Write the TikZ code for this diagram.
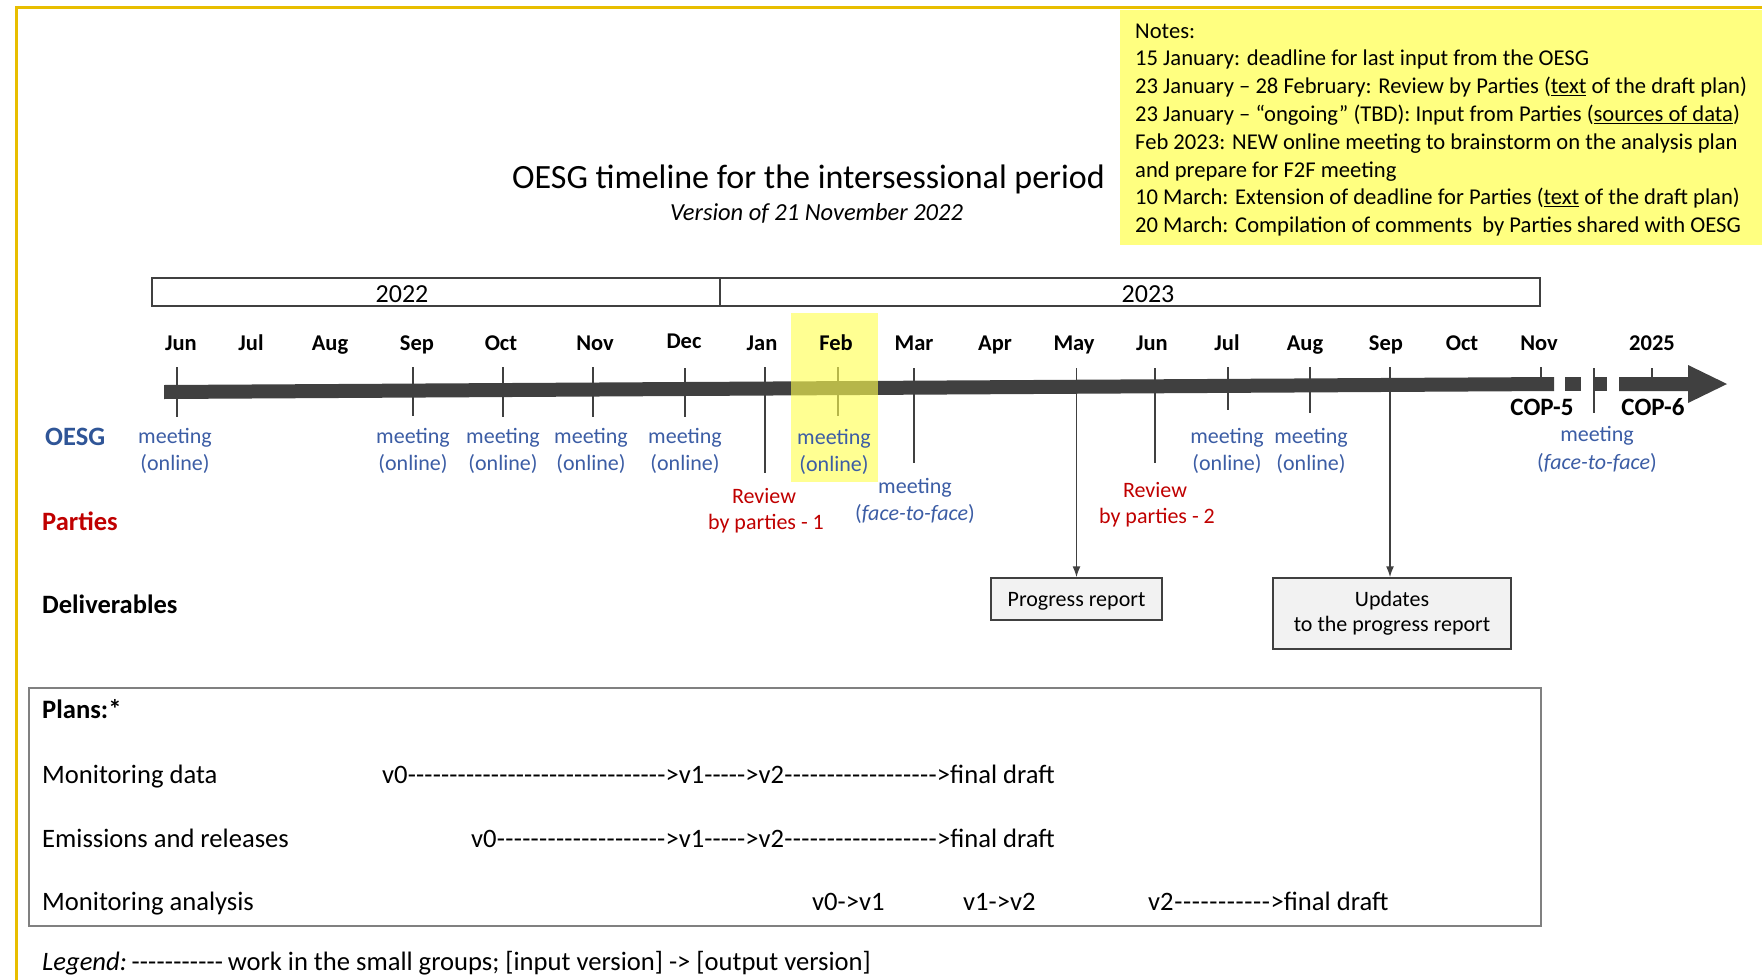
\documentclass[tikz,border=0pt]{standalone}
\usepackage{fontspec}
\setmainfont{Carlito}
\usetikzlibrary{arrows.meta}
\definecolor{gold}{RGB}{232,190,0}
\definecolor{noteyellow}{RGB}{255,255,128}
\definecolor{hiyellow}{RGB}{255,255,80}
\definecolor{shaftgray}{RGB}{64,64,64}
\definecolor{meetblue}{RGB}{60,93,165}
\definecolor{oesgblue}{RGB}{47,85,151}
\definecolor{partred}{RGB}{192,0,0}
\definecolor{boxgray}{RGB}{242,242,242}
\definecolor{framegray}{RGB}{128,128,128}
\newcommand\fsz[1]{\fontsize{#1}{#1}\selectfont}
\newcommand\dfill[1]{\hbox to #1pt{\xleaders\hbox{-}\hfill}}
\tikzset{
  lbl/.style={inner sep=0pt, anchor=base},
  lblw/.style={inner sep=0pt, anchor=base west},
  month/.style={lbl, font=\fsz{22.5}\bfseries},
  meet/.style={lbl, text=meetblue, font=\fsz{22}},
  review/.style={lbl, text=partred, font=\fsz{22}},
  rowhead/.style={lblw, font=\fsz{26.5}\bfseries},
  note/.style={lblw, font=\fsz{22.6}},
  plan/.style={lblw, font=\fsz{26.6}},
  cop/.style={lbl, font=\fsz{25}\bfseries},
  tick/.style={shaftgray, line width=1.1pt},
  conn/.style={shaftgray, line width=1.5pt, -{Latex[length=11pt,width=8pt]}},
  delbox/.style={draw=shaftgray, line width=1.5pt, fill=boxgray, inner sep=0pt, font=\fsz{22}},
  yearbox/.style={draw=shaftgray, line width=1.5pt, inner sep=0pt, minimum height=28pt}
}
\begin{document}
\begin{tikzpicture}[x=1pt,y=-1pt]
\useasboundingbox (0,0) rectangle (1762,980);
\fill[white] (0,0) rectangle (1762,980);
% frame
\draw[gold, line width=3pt] (16,980) -- (16,7.5) -- (1762,7.5);
% notes
\node[fill=noteyellow, minimum width=642pt, minimum height=235pt, inner sep=0pt] (notes) at (1441,127.5) {};
\node[note] (n1) at (1135,38) {Notes:};
\node[note] (n2) at (1135,65.8) {15 January: deadline for last input from the OESG};
\node[note] (n3) at (1135,93.6) {23 January – 28 February: Review by Parties (\underline{text} of the draft plan)};
\node[note] (n4) at (1135,121.4) {23 January – “ongoing” (TBD): Input from Parties (\underline{sources of data})};
\node[note] (n5) at (1135,149.2) {Feb 2023: NEW online meeting to brainstorm on the analysis plan};
\node[note] (n6) at (1135,177) {and prepare for F2F meeting};
\node[note] (n7) at (1135,204.8) {10 March: Extension of deadline for Parties (\underline{text} of the draft plan)};
\node[note] (n8) at (1135,232.6) {20 March: Compilation of comments\ \ by Parties shared with OESG};
% title
\node[lblw, font=\fsz{34}] (title) at (512,188) {OESG timeline for the intersessional period};
\node[lblw, font=\fsz{24.5}\itshape] (subtitle) at (670,220.5) {Version of 21 November 2022};
% years
\node[yearbox, minimum width=568pt] (b2022) at (436,292) {};
\node[yearbox, minimum width=820pt] (b2023) at (1130,292) {};
\node[lbl, font=\fsz{26}] (y2022) at (402,302) {2022};
\node[lbl, font=\fsz{26}] (y2023) at (1148,302) {2023};
% timeline shaft
\fill[shaftgray] (164,385) -- (1554,377) -- (1554,391) -- (164,399) -- cycle;
\fill[shaftgray] (1565,377) rectangle (1581,391);
\fill[shaftgray] (1593,377) rectangle (1607,391);
\fill[shaftgray] (1619,377) -- (1688,377) -- (1688,365) -- (1727,384) -- (1688,403) -- (1688,391) -- (1619,391) -- cycle;
% ticks
\foreach \x/\a/\b in {177/367/417,413/367/416,503/367/417,593/367/417,685/368/417,765/367/473,838/367/416,914/368/463,1155/368/463,1228/367/410,1310/367/413,1541/367/380,1652/368/380,1594/368/413}
  \draw[tick] (\x,\a) -- (\x,\b);
% Feb highlight
\fill[hiyellow, opacity=.62] (791,313) rectangle (878,482);
% months
\foreach \x/\t/\n in {181/Jun/mA,251/Jul/mB,330/Aug/mC,417/Sep/mD,501/Oct/mE,595/Nov/mF,762/Jan/mH,836/Feb/mI,914/Mar/mJ,995/Apr/mK,1074/May/mL,1152/Jun/mM,1227/Jul/mN,1305/Aug/mO,1386/Sep/mP,1462/Oct/mQ,1539/Nov/mR,1652/2025/mS}
  \node[month] (\n) at (\x,350) {\t};
\node[month] (mG) at (684,348) {Dec};
% row headings
\node[rowhead, text=oesgblue] (hOESG) at (45,445) {OESG};
\node[rowhead, text=partred] (hParties) at (42,530) {Parties};
\node[rowhead] (hDeliv) at (42,613) {Deliverables};
% meetings
\foreach \x/\y/\n in {175/443/tJun,413/443/tSep,503/443/tOct,591/443/tNov,685/443/tDec,834/444/tFeb,1227/443/tJul,1311/443/tAug}{
  \node[meet] (\n-a) at (\x,\y) {meeting};
  \node[meet] (\n-b) at (\x,\y+27) {(online)};
}
\node[meet] (tMar-a) at (915,493) {meeting};
\node[meet] (tMar-b) at (915,520) {(\textit{face-to-face})};
\node[meet] (tCop-a) at (1597,441) {meeting};
\node[meet] (tCop-b) at (1597,469) {(\textit{face-to-face})};
% reviews
\node[review] (r1a) at (764,503) {Review};
\node[review] (r1b) at (766,529) {by parties - 1};
\node[review] (r2a) at (1155,497) {Review};
\node[review] (r2b) at (1157,523) {by parties - 2};
% COP
\node[cop] (cop5) at (1542,415) {COP-5};
\node[cop] (cop6) at (1653,415) {COP-6};
% deliverables
\node[delbox, minimum width=171pt, minimum height=42pt, text height=16pt, text depth=2pt] (prog) at (1076.5,599) {Progress report};
\node[delbox, minimum width=238pt, minimum height=71pt, align=center, font=\fontsize{22}{25}\selectfont] (upd) at (1392,613.5) {Updates\\to the progress report};
\coordinate (mayTop) at (1076.5,368);
\coordinate (sepTop) at (1390,367);
\draw[conn] (mayTop) -- (prog.north);
\draw[conn] (sepTop) -- (sepTop |- upd.north);
% plans
\node[draw=framegray, line width=1.5pt, minimum width=1512pt, minimum height=238pt, inner sep=0pt] (plans) at (785,807) {};
\node[lblw, font=\fsz{26.6}\bfseries] (plT) at (42,718) {Plans:*};
\node[plan] (pl1) at (42,783) {Monitoring data};
\node[plan] (pl2) at (42,847) {Emissions and releases};
\node[plan] (pl3) at (42,910) {Monitoring analysis};
\node[plan] (r1) at (382,783) {v0\dfill{258}>v1\dfill{41}>v2\dfill{153}>final draft};
\node[plan] (r2) at (471,847) {v0\dfill{169}>v1\dfill{41}>v2\dfill{153}>final draft};
\node[plan] (r3a) at (812,910) {v0->v1};
\node[plan] (r3b) at (963,910) {v1->v2};
\node[plan] (r3c) at (1148,910) {v2\dfill{97}>final draft};
% legend
\node[plan] (legend) at (42,970) {\textit{Legend:}\,\dfill{92}\,work in the small groups; [input version] -> [output version]};
\end{tikzpicture}
\end{document}
